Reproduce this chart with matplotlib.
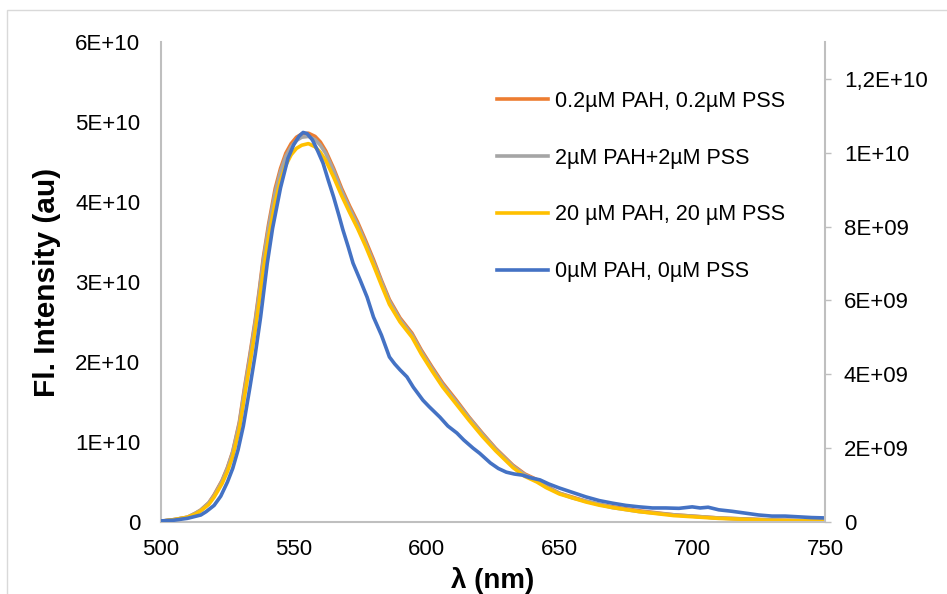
import matplotlib
matplotlib.use("Agg")
import matplotlib.pyplot as plt
from matplotlib.patches import Rectangle

plt.rcParams["font.family"] = ["Liberation Sans", "DejaVu Sans"]

# emission spectra (wavelength in nm)
wl = [500, 505, 510, 513, 515, 518, 520, 523, 525, 527, 529.5, 531.5, 533.5, 535.5,
      537, 538.5, 540.5, 543, 545, 547, 549, 551, 553, 555.5, 558, 560, 562, 565, 568,
      571, 574, 577, 580, 583, 586, 590, 594.5, 598, 602, 606, 611, 616, 621, 626,
      632.5, 637, 641.5, 645, 650, 655, 660, 665, 670, 680, 693, 710, 730, 750]

# primary axis, in units of 1E+10
pah_02 = [0.01, 0.03, 0.06, 0.11, 0.15, 0.24, 0.34, 0.52, 0.68, 0.88, 1.25, 1.69, 2.10, 2.53,
          2.90, 3.30, 3.72, 4.17, 4.42, 4.61, 4.73, 4.81, 4.85, 4.86, 4.82, 4.75, 4.64, 4.42, 4.17,
          3.95, 3.75, 3.52, 3.28, 3.02, 2.78, 2.55, 2.36, 2.15, 1.94, 1.74, 1.53, 1.31, 1.11, 0.92,
          0.71, 0.60, 0.53, 0.45, 0.36, 0.31, 0.26, 0.22, 0.19, 0.14, 0.09, 0.05, 0.025, 0.01]
pah_2 = [0.01, 0.03, 0.06, 0.11, 0.15, 0.24, 0.33, 0.51, 0.67, 0.87, 1.23, 1.66, 2.07, 2.50,
         2.87, 3.26, 3.68, 4.12, 4.38, 4.57, 4.69, 4.77, 4.81, 4.82, 4.78, 4.71, 4.61, 4.39, 4.14,
         3.92, 3.72, 3.49, 3.25, 3.00, 2.76, 2.53, 2.34, 2.13, 1.92, 1.72, 1.51, 1.30, 1.10, 0.91,
         0.70, 0.59, 0.52, 0.44, 0.36, 0.30, 0.26, 0.22, 0.18, 0.13, 0.09, 0.05, 0.025, 0.01]
pah_20 = [0.01, 0.03, 0.06, 0.10, 0.14, 0.22, 0.31, 0.48, 0.63, 0.82, 1.16, 1.58, 1.98, 2.40,
          2.76, 3.14, 3.56, 4.00, 4.27, 4.46, 4.59, 4.67, 4.71, 4.73, 4.69, 4.62, 4.52, 4.31, 4.08,
          3.87, 3.67, 3.45, 3.21, 2.96, 2.72, 2.50, 2.31, 2.10, 1.89, 1.69, 1.48, 1.27, 1.07, 0.89,
          0.68, 0.57, 0.50, 0.43, 0.35, 0.30, 0.25, 0.21, 0.18, 0.13, 0.08, 0.045, 0.02, 0.01]

# secondary axis (0 uM), in units of 1E+09
wl_0 = [500, 505, 510, 515, 517, 520, 522.5, 525, 527, 529, 531, 533.5, 535.5, 537.5, 540,
        542, 545, 547.8, 550, 552, 553.5, 555, 557, 559, 561, 563, 565, 567, 568.5, 570.5,
        572.3, 575, 577.6, 580, 583, 586, 588, 590, 592.6, 595, 598.6, 601, 605, 608, 611.4,
        614, 617.5, 620, 624, 627, 630, 633, 636, 639, 642.7, 646, 650, 655, 660, 665, 670,
        675, 680, 685, 690, 695, 700, 703, 706, 710, 715, 720, 725, 730, 735, 740, 745, 750]
pah_0 = [0.03, 0.05, 0.10, 0.19, 0.28, 0.45, 0.70, 1.08, 1.45, 1.95, 2.60, 3.66, 4.55, 5.55, 7.00,
         7.95, 9.05, 9.85, 10.22, 10.45, 10.55, 10.52, 10.35, 10.05, 9.72, 9.25, 8.80, 8.30, 7.91, 7.45,
         7.01, 6.55, 6.09, 5.55, 5.06, 4.47, 4.28, 4.12, 3.93, 3.65, 3.30, 3.12, 2.84, 2.60, 2.41,
         2.22, 2.00, 1.86, 1.60, 1.45, 1.35, 1.30, 1.27, 1.20, 1.14, 1.03, 0.92, 0.80, 0.68, 0.58, 0.51,
         0.45, 0.41, 0.38, 0.38, 0.37, 0.41, 0.38, 0.40, 0.33, 0.29, 0.24, 0.19, 0.16, 0.16, 0.14, 0.12, 0.11]

left_ticks = [0, 1e10, 2e10, 3e10, 4e10, 5e10, 6e10]
left_labels = ["0", "1E+10", "2E+10", "3E+10", "4E+10", "5E+10", "6E+10"]
right_ticks = [0, 2e9, 4e9, 6e9, 8e9, 10e9, 12e9]
right_labels = ["0", "2E+09", "4E+09", "6E+09", "8E+09", "1E+10", "1,2E+10"]
x_ticks = [500, 550, 600, 650, 700, 750]

ORANGE, GREY, YELLOW, BLUE = "#ED7D31", "#A5A5A5", "#FFC000", "#4472C4"
AXCOL = "#BFBFBF"

fig = plt.figure(figsize=(9.47, 5.94), dpi=100)
fig.patches.append(Rectangle((7 / 947, -0.1), 1.2, 1 - 10 / 594 + 0.1, transform=fig.transFigure,
                             fill=False, edgecolor="#D9D9D9", linewidth=1))
ax = fig.add_axes([161 / 947, 72 / 594, (825 - 161) / 947, (522 - 42) / 594])
ax2 = ax.twinx()

lw = 2.6
ax.plot(wl, [v * 1e10 for v in pah_02], color=ORANGE, lw=lw, label="0.2µM PAH, 0.2µM PSS")
ax.plot(wl, [v * 1e10 for v in pah_2], color=GREY, lw=lw, label="2µM PAH+2µM PSS")
ax.plot(wl, [v * 1e10 for v in pah_20], color=YELLOW, lw=lw, label="20 µM PAH, 20 µM PSS")
ax2.plot(wl_0, [v * 1e9 for v in pah_0], color=BLUE, lw=lw, label="0µM PAH, 0µM PSS")

ax.set_xlim(500, 750)
ax.set_ylim(0, 6e10)
ax2.set_ylim(0, 1.3e10)

ax.set_xticks(x_ticks)
ax.set_xticklabels([str(t) for t in x_ticks])
ax.set_yticks(left_ticks)
ax.set_yticklabels(left_labels)
ax2.set_yticks(right_ticks)
ax2.set_yticklabels(right_labels)

ax.tick_params(axis="x", length=0, labelsize=16, pad=12)
ax.tick_params(axis="y", length=0, labelsize=16, pad=15)
ax2.tick_params(axis="y", length=4.5, width=1, color=AXCOL, labelsize=16, pad=9)

for a in (ax, ax2):
    a.spines["top"].set_visible(False)
    for side in ("left", "bottom", "right"):
        a.spines[side].set_color(AXCOL)
        a.spines[side].set_linewidth(1.5)
ax.spines["right"].set_visible(False)
ax2.spines["left"].set_visible(False)
ax2.spines["bottom"].set_visible(False)

ax.set_ylabel("Fl. Intensity (au)", fontsize=21.5, fontweight="bold", labelpad=10)
ax.set_xlabel("λ (nm)", fontsize=20, fontweight="bold", labelpad=5)

h1, l1 = ax.get_legend_handles_labels()
h2, l2 = ax2.get_legend_handles_labels()
ax2.legend(h1 + h2, l1 + l2, loc="upper left", bbox_to_anchor=(497 / 947, 1 - 91 / 594),
           bbox_transform=fig.transFigure, frameon=False, fontsize=15.5, borderpad=0,
           borderaxespad=0, handlelength=2.35, handletextpad=0.33, labelspacing=1.66)

fig.savefig("out.png", dpi=100)
